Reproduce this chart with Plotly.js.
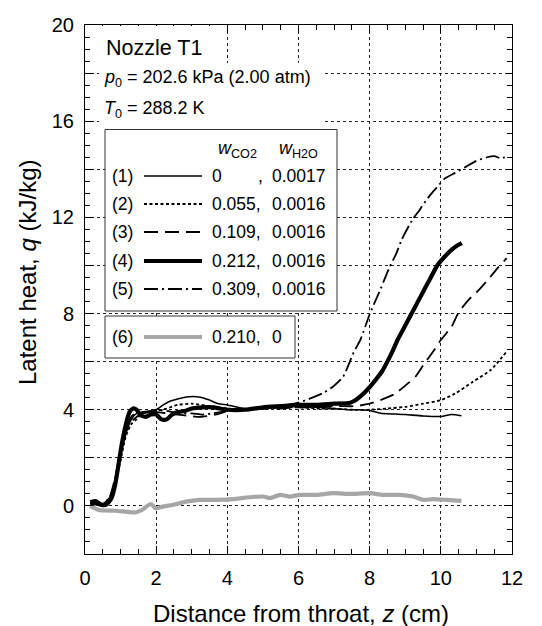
<!DOCTYPE html>
<html>
<head>
<meta charset="utf-8">
<script src="https://cdn.plot.ly/plotly-3.0.1.min.js"></script>
<style>html,body{margin:0;padding:0;background:#fff;}#chart{width:542px;height:626px;}</style>
</head>
<body>
<div id="chart"></div>
<script>
// ---- Data ----
const z1 = [0.15,0.3,0.5,0.7,0.85,1.0,1.15,1.3,1.45,1.6,1.8,2.0,2.2,2.4,2.6,2.85,3.05,3.2,3.35,3.5,3.75,4.0,4.5,5.0,5.5,6.0,6.5,7.0,7.4,7.7,8.0,8.3,8.7,9.0,9.5,10.0,10.3,10.58];
const q1 = [0.15,0.2,0.1,0.35,1.0,2.1,3.0,3.6,3.85,3.9,3.95,4.0,4.2,4.36,4.45,4.53,4.55,4.53,4.48,4.4,4.25,4.2,4.05,4.05,4.1,4.15,4.1,4.05,4.0,4.0,3.97,3.85,3.82,3.8,3.74,3.72,3.8,3.75];

const z2 = [0.15,0.3,0.5,0.7,0.85,1.0,1.15,1.3,1.45,1.6,1.8,2.0,2.3,2.6,3.0,3.5,4.0,4.5,5.0,5.5,6.0,6.5,7.0,7.5,8.0,8.5,9.0,9.5,10.0,10.4,10.9,11.4,11.85];
const q2 = [0.1,0.1,0.05,0.3,0.9,1.9,2.9,3.4,3.6,3.85,3.9,3.95,4.05,4.2,4.25,4.15,4.05,4.0,4.05,4.1,4.1,4.05,4.05,4.0,4.0,4.05,4.12,4.25,4.4,4.67,5.16,5.65,6.42];

const z3 = [0.15,0.3,0.5,0.7,0.85,1.0,1.15,1.3,1.45,1.6,1.8,2.0,2.3,2.6,2.9,3.2,3.5,3.8,4.0,4.5,5.0,5.5,6.0,6.5,7.0,7.6,8.0,8.3,8.7,9.0,9.3,9.55,9.8,10.0,10.3,10.5,10.8,11.05,11.35,11.6,11.85];
const q3 = [0.05,0.05,0.0,0.35,1.1,2.2,3.1,3.5,3.7,3.85,3.85,3.9,3.85,3.8,3.75,3.7,3.75,3.85,3.95,4.0,4.05,4.05,4.1,4.1,4.15,4.15,4.25,4.4,4.65,5.0,5.4,5.95,6.45,6.9,7.45,8.05,8.6,8.95,9.45,9.9,10.3];

const z4 = [0.15,0.3,0.45,0.6,0.75,0.85,0.95,1.05,1.15,1.25,1.35,1.45,1.55,1.7,1.85,2.0,2.15,2.3,2.45,2.6,2.8,3.0,3.3,3.6,4.0,4.5,5.0,5.5,6.0,6.5,7.0,7.45,7.65,7.9,8.1,8.35,8.6,8.8,9.0,9.25,9.5,9.7,9.9,10.1,10.3,10.45,10.59];
const q4 = [0.15,0.2,0.05,0.05,0.35,0.9,1.8,2.7,3.4,3.9,4.05,4.0,3.8,3.7,3.8,3.8,3.6,3.6,3.8,3.9,3.95,4.05,4.1,4.1,4.0,4.0,4.1,4.15,4.2,4.2,4.25,4.29,4.45,4.78,5.12,5.6,6.3,6.95,7.5,8.2,8.9,9.45,10.0,10.35,10.65,10.82,10.93];

const z5 = [0.15,0.3,0.5,0.7,0.85,1.0,1.15,1.3,1.45,1.6,1.8,2.0,2.3,2.6,3.0,3.3,3.6,4.0,4.5,5.0,5.5,6.0,6.3,6.7,7.0,7.25,7.55,7.75,8.0,8.3,8.55,8.75,8.9,9.2,9.4,9.6,9.8,9.95,10.1,10.4,10.7,11.0,11.3,11.5,11.7,11.85];
const q5 = [0.1,0.1,0.05,0.4,1.2,2.3,3.2,3.7,3.9,3.85,3.9,4.0,3.95,3.85,3.85,3.8,3.85,3.95,4.0,4.1,4.15,4.3,4.45,4.7,5.0,5.36,6.38,6.95,7.97,9.0,9.9,10.5,11.07,11.9,12.3,12.74,13.1,13.35,13.6,13.85,14.1,14.35,14.5,14.55,14.45,14.55];

const z6 = [0.14,0.39,0.86,1.2,1.42,1.6,1.85,1.99,2.18,2.46,2.84,3.22,3.68,4.15,4.62,5.0,5.2,5.48,5.76,6.04,6.51,6.98,7.45,8.0,8.38,8.85,9.22,9.51,9.79,10.16,10.58];
const q6 = [0.0,-0.17,-0.2,-0.25,-0.27,-0.17,0.08,-0.1,-0.03,0.04,0.18,0.25,0.25,0.28,0.36,0.39,0.32,0.46,0.39,0.46,0.46,0.53,0.5,0.53,0.46,0.46,0.39,0.25,0.28,0.25,0.21];

const seriesLabels = ["(1)","(2)","(3)","(4)","(5)","(6)"];
const wCO2 = ["0","0.055,","0.109,","0.212,","0.309,","0.210,"];
const wH2O = ["0.0017","0.0016","0.0016","0.0016","0.0016","0"];

// ---- Styles ----
const styles = [
  {color:"#000", width:1.6, dash:"solid"},
  {color:"#000", width:1.8, dash:"3px,2.5px"},
  {color:"#000", width:1.8, dash:"14px,7px"},
  {color:"#000", width:4.2, dash:"solid"},
  {color:"#000", width:1.8, dash:"14px,4px,2px,4px"},
  {color:"#a6a6a6", width:4.2, dash:"solid"}
];
const zs = [z1,z2,z3,z4,z5,z6];
const qs = [q1,q2,q3,q4,q5,q6];
const order = [5,0,1,2,4,3];
const traces = order.map(i => ({
  x: zs[i], y: qs[i], type:"scatter", mode:"lines",
  line:{color:styles[i].color, width:styles[i].width, dash:styles[i].dash, shape:"spline", smoothing:0.6},
  showlegend:false, hoverinfo:"skip"
}));
// invisible helper trace on the grid-only overlay axis
traces.unshift({x:[0], y:[0], xaxis:"x", yaxis:"y2", type:"scatter", mode:"lines", line:{width:0}, showlegend:false, hoverinfo:"skip"});

// pixel -> paper helpers (plot area: x 85..512, y 25..554)
const L=85, R=512, T=25, B=554;
const xp = px => (px-L)/(R-L);
const yp = py => (B-py)/(B-T);

const FONT = "Arial, 'Liberation Sans', sans-serif";
const shapes = [];
const ann = [];

// white areas behind the text block
shapes.push({type:"rect", xref:"paper", yref:"paper", x0:xp(99), x1:xp(220), y0:yp(63), y1:yp(26), fillcolor:"#fff", line:{width:0}, layer:"above"});
shapes.push({type:"rect", xref:"paper", yref:"paper", x0:xp(99), x1:xp(325), y0:yp(129), y1:yp(63), fillcolor:"#fff", line:{width:0}, layer:"above"});
// legend boxes
shapes.push({type:"rect", xref:"paper", yref:"paper", x0:xp(105), x1:xp(337), y0:yp(311), y1:yp(129.5), fillcolor:"#fff", line:{width:1, color:"#333"}, layer:"above"});
shapes.push({type:"rect", xref:"paper", yref:"paper", x0:xp(105), x1:xp(295), y0:yp(358), y1:yp(316), fillcolor:"#fff", line:{width:1, color:"#333"}, layer:"above"});

ann.push({text:"Nozzle T1", xref:"paper", yref:"paper", x:xp(104), y:yp(48), xanchor:"left", yanchor:"middle", showarrow:false, font:{family:FONT, size:21.5, color:"#000"}});
ann.push({text:"<i>p</i><sub>0</sub> = 202.6 kPa (2.00 atm)", xref:"paper", yref:"paper", x:xp(102), y:yp(79), xanchor:"left", yanchor:"middle", showarrow:false, font:{family:FONT, size:18, color:"#000"}});
ann.push({text:"<i>T</i><sub>0</sub> = 288.2 K", xref:"paper", yref:"paper", x:xp(102), y:yp(110), xanchor:"left", yanchor:"middle", showarrow:false, font:{family:FONT, size:18, color:"#000"}});
ann.push({text:"<i>w</i><sub>CO2</sub>", xref:"paper", yref:"paper", x:xp(216), y:yp(149), xanchor:"left", yanchor:"middle", showarrow:false, font:{family:FONT, size:18, color:"#000"}});
ann.push({text:"<i>w</i><sub>H2O</sub>", xref:"paper", yref:"paper", x:xp(277), y:yp(149), xanchor:"left", yanchor:"middle", showarrow:false, font:{family:FONT, size:18, color:"#000"}});

const rowY = [176,204,232,261,289,337];
for (let i=0;i<6;i++){
  const y = rowY[i];
  ann.push({text:seriesLabels[i], xref:"paper", yref:"paper", x:xp(110), y:yp(y), xanchor:"left", yanchor:"middle", showarrow:false, font:{family:FONT, size:17.5, color:"#000"}});
  ann.push({text:wCO2[i], xref:"paper", yref:"paper", x:xp(210), y:yp(y), xanchor:"left", yanchor:"middle", showarrow:false, font:{family:FONT, size:17.5, color:"#000"}});
  ann.push({text:wH2O[i], xref:"paper", yref:"paper", x:xp(270), y:yp(y), xanchor:"left", yanchor:"middle", showarrow:false, font:{family:FONT, size:17.5, color:"#000"}});
  shapes.push({type:"line", xref:"paper", yref:"paper", x0:xp(144), x1:xp(202), y0:yp(y), y1:yp(y), line:{color:styles[i].color, width:styles[i].width, dash:styles[i].dash}, layer:"above"});
}
ann.push({text:",", xref:"paper", yref:"paper", x:xp(256), y:yp(176), xanchor:"left", yanchor:"middle", showarrow:false, font:{family:FONT, size:17.5, color:"#000"}});

// axis titles
ann.push({text:"Distance from throat, <i>z</i> (cm)", xref:"paper", yref:"paper", x:xp(301), y:yp(613), xanchor:"center", yanchor:"middle", showarrow:false, font:{family:FONT, size:24, color:"#000"}});
ann.push({text:"Latent heat, <i>q</i> (kJ/kg)", xref:"paper", yref:"paper", x:xp(27), y:yp(273), xanchor:"center", yanchor:"middle", textangle:-90, showarrow:false, font:{family:FONT, size:24, color:"#000"}});

const layout = {
  width:542, height:626,
  margin:{l:L, r:542-R, t:T, b:626-B, pad:0},
  paper_bgcolor:"#fff", plot_bgcolor:"#fff",
  font:{family:FONT, size:20, color:"#000"},
  showlegend:false,
  xaxis:{
    range:[0,12], tick0:0, dtick:2, ticks:"inside", ticklen:8, tickcolor:"#000", tickwidth:1,
    showline:true, linecolor:"#000", linewidth:1, mirror:"ticks",
    showgrid:true, gridcolor:"#222", gridwidth:1, griddash:"3px,3px", zeroline:false,
    tickfont:{family:FONT, size:20, color:"#000"}, ticklabelstandoff:6,
    minor:{tick0:0, dtick:0.5, ticks:"inside", ticklen:5, tickcolor:"#000", tickwidth:1, showgrid:false}
  },
  yaxis:{
    range:[-2,20], tick0:0, dtick:4,
    ticks:"inside", ticklen:8, tickcolor:"#000", tickwidth:1,
    showline:true, linecolor:"#000", linewidth:1, mirror:"ticks",
    showgrid:true, gridcolor:"#222", gridwidth:1, griddash:"3px,3px", zeroline:false,
    tickfont:{family:FONT, size:20, color:"#000"}, ticklabelstandoff:6,
    minor:{tick0:0, dtick:0.5, ticks:"inside", ticklen:5, tickcolor:"#000", tickwidth:1, showgrid:false}
  },
  yaxis2:{
    overlaying:"y", side:"left", range:[-2,20], tick0:2, dtick:4,
    showticklabels:false, ticks:"inside", ticklen:8, tickcolor:"#000",
    showline:false, showgrid:true, gridcolor:"#222", gridwidth:1, griddash:"3px,3px", zeroline:false
  },
  shapes:shapes,
  annotations:ann
};

Plotly.newPlot("chart", traces, layout, {staticPlot:true, displayModeBar:false});
</script>
</body>
</html>
